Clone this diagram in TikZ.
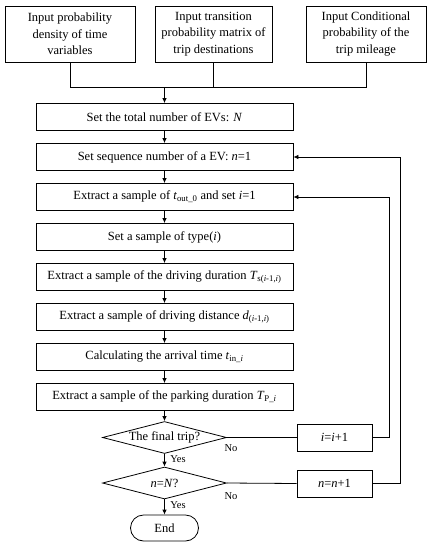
\documentclass[tikz,border=0pt]{standalone}
\usepackage{fontspec}
\setmainfont{Liberation Serif}
\usetikzlibrary{arrows.meta,shapes.geometric}

\begin{document}
\begin{tikzpicture}[x=1pt,y=-1pt,
    txt/.style={font=\fontsize{12.5}{16.5}\selectfont},
    inbox/.style={draw,txt,line width=0.8pt,minimum height=56pt,align=center,inner sep=1pt},
    box/.style={draw,txt,line width=0.8pt,minimum width=257pt,minimum height=27pt,inner sep=1pt},
    small/.style={draw,txt,line width=0.8pt,minimum width=75pt,minimum height=27pt,inner sep=1pt},
    decide/.style={draw,diamond,line width=0.8pt,minimum width=124pt,minimum height=32pt,inner sep=0pt,label={[txt]center:#1}},
    stop/.style={draw,txt,line width=0.8pt,rounded corners=13pt,minimum width=68pt,minimum height=26pt},
    note/.style={font=\fontsize{10.5}{12}\selectfont},
    line/.style={line width=0.8pt},
    arr/.style={line width=0.8pt,-{Latex[length=5pt,width=4.5pt]}}]
    \useasboundingbox (0,0) rectangle (432,550);

    % inputs
    \node[inbox,minimum width=130pt] (in1) at (70,34) {Input probability\\density of time\\variables};
    \node[inbox,minimum width=117pt] (in2) at (213.5,34) {Input transition\\probability matrix of\\trip destinations};
    \node[inbox,minimum width=120pt] (in3) at (366,34) {Input Conditional\\probability of the\\trip mileage};
    \coordinate (merge) at (164.5,87);

    % main column
    \node[box] (b1) at (164.5,117) {Set the total number of EVs: \textit{N}};
    \node[box] (b2) at (164.5,157) {Set sequence number of a EV: \textit{n}=1};
    \node[box] (b3) at (164.5,197) {Extract a sample of \textit{t}\textsubscript{out\_0} and set \textit{i}=1};
    \node[box] (b4) at (164.5,237) {Set a sample of type(\textit{i})};
    \node[box] (b5) at (164.5,277) {Extract a sample of the driving duration \textit{T}\textsubscript{s(\textit{i}-1,\textit{i})}};
    \node[box] (b6) at (164.5,317) {Extract a sample of driving distance \textit{d}\textsubscript{(\textit{i}-1,\textit{i})}};
    \node[box] (b7) at (164.5,357) {Calculating the arrival time \textit{t}\textsubscript{in\_\textit{i}}};
    \node[box] (b8) at (164.5,397) {Extract a sample of the parking duration \textit{T}\textsubscript{P\_\textit{i}}};

    \node[decide={The final trip?}] (d1) at (164.5,437.5) {};
    \node[decide={\textit{n}=\textit{N}?}] (d2) at (164.5,483) {};
    \node[stop] (end) at (164.5,528) {End};

    \node[small] (inci) at (334.5,437.5) {\textit{i}=\textit{i}+1};
    \node[small] (incn) at (334.5,483.5) {\textit{n}=\textit{n}+1};

    % labels
    \node[note] (no1) at (231,448) {No};
    \node[note] (yes1) at (178,459) {Yes};
    \node[note] (no2) at (231,496) {No};
    \node[note] (yes2) at (178,505) {Yes};

    % connectors
    \draw[line] (in1.south) |- (merge);
    \draw[line] (in3.south) |- (merge);
    \draw[line] (in2.south) -- (in2.south |- merge);
    \draw[arr] (merge) -- (b1);
    \draw[arr] (b1) -- (b2);
    \draw[arr] (b2) -- (b3);
    \draw[arr] (b3) -- (b4);
    \draw[arr] (b4) -- (b5);
    \draw[arr] (b5) -- (b6);
    \draw[arr] (b6) -- (b7);
    \draw[arr] (b7) -- (b8);
    \draw[arr] (b8) -- (d1);
    \draw[arr] (d1) -- (d2);
    \draw[arr] (d2) -- (end);
    \draw[line] (d1.east) -- (inci.west);
    \draw[line] (d2.east) -- (incn.west);
    \draw[arr] (inci.east) -- ++(17,0) |- (b3.east);
    \draw[arr] (incn.east) -- ++(28,0) |- (b2.east);
\end{tikzpicture}
\end{document}
